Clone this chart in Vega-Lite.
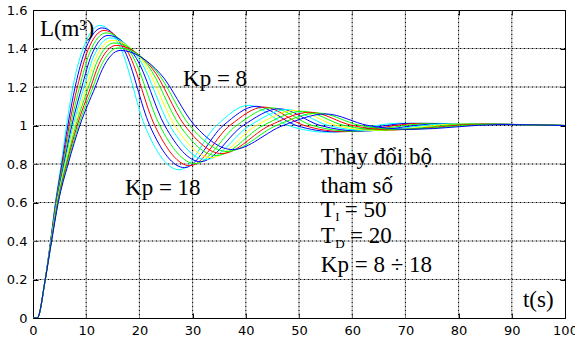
{
  "$schema": "https://vega.github.io/schema/vega-lite/v6.json",
  "width": 532,
  "height": 308,
  "autosize": {"type": "none"},
  "padding": {"left": 33, "top": 10, "right": 10, "bottom": 21},
  "background": "white",
  "config": {
    "view": {"stroke": null},
    "axis": {
      "domainColor": "black", "tickColor": "black", "labelColor": "black",
      "labelFont": "DejaVu Sans", "labelFontSize": 13, "title": null, "grid": false
    }
  },
  "datasets": {
    "gx": [{"v":10},{"v":20},{"v":30},{"v":40},{"v":50},{"v":60},{"v":70},{"v":80},{"v":90}],
    "gy": [{"v":0.2},{"v":0.4},{"v":0.6},{"v":0.8},{"v":1.0},{"v":1.2},{"v":1.4}],
    "curves": [
      {"k":18,"t":0,"y":0},{"k":18,"t":0.8,"y":0},{"k":18,"t":2.3,"y":0.2},{"k":18,"t":3.3,"y":0.4},{"k":18,"t":4.2,"y":0.6},{"k":18,"t":5.3,"y":0.8},{"k":18,"t":6.3,"y":1},{"k":18,"t":7.5,"y":1.2},{"k":18,"t":9.7,"y":1.42},{"k":18,"t":12.6,"y":1.52},{"k":18,"t":16.5,"y":1.4},{"k":18,"t":21,"y":1},{"k":18,"t":27.5,"y":0.77},{"k":18,"t":34.5,"y":1},{"k":18,"t":40.5,"y":1.105},{"k":18,"t":48,"y":1},{"k":18,"t":55.5,"y":0.965},{"k":18,"t":69,"y":1.012},{"k":18,"t":100,"y":1},
      {"k":17,"t":0,"y":0},{"k":17,"t":0.8,"y":0},{"k":17,"t":2.3,"y":0.2},{"k":17,"t":3.32,"y":0.4},{"k":17,"t":4.26,"y":0.6},{"k":17,"t":5.43,"y":0.8},{"k":17,"t":6.55,"y":1},{"k":17,"t":7.92,"y":1.2},{"k":17,"t":10.03,"y":1.407},{"k":17,"t":12.98,"y":1.507},{"k":17,"t":17.24,"y":1.387},{"k":17,"t":21.94,"y":1},{"k":17,"t":28.5,"y":0.781},{"k":17,"t":35.75,"y":1},{"k":17,"t":41.95,"y":1.1},{"k":17,"t":49.5,"y":1},{"k":17,"t":57.05,"y":0.967},{"k":17,"t":70.9,"y":1.011},{"k":17,"t":100,"y":1},
      {"k":16,"t":0,"y":0},{"k":16,"t":0.8,"y":0},{"k":16,"t":2.3,"y":0.2},{"k":16,"t":3.34,"y":0.4},{"k":16,"t":4.31,"y":0.6},{"k":16,"t":5.56,"y":0.8},{"k":16,"t":6.8,"y":1},{"k":16,"t":8.34,"y":1.2},{"k":16,"t":10.36,"y":1.394},{"k":16,"t":13.36,"y":1.494},{"k":16,"t":17.98,"y":1.374},{"k":16,"t":22.88,"y":1},{"k":16,"t":29.5,"y":0.791},{"k":16,"t":37,"y":1},{"k":16,"t":43.4,"y":1.096},{"k":16,"t":51,"y":1},{"k":16,"t":58.6,"y":0.968},{"k":16,"t":72.8,"y":1.011},{"k":16,"t":100,"y":1},
      {"k":15,"t":0,"y":0},{"k":15,"t":0.8,"y":0},{"k":15,"t":2.3,"y":0.2},{"k":15,"t":3.36,"y":0.4},{"k":15,"t":4.37,"y":0.6},{"k":15,"t":5.69,"y":0.8},{"k":15,"t":7.05,"y":1},{"k":15,"t":8.76,"y":1.2},{"k":15,"t":10.69,"y":1.381},{"k":15,"t":13.74,"y":1.481},{"k":15,"t":18.72,"y":1.361},{"k":15,"t":23.82,"y":1},{"k":15,"t":30.5,"y":0.802},{"k":15,"t":38.25,"y":1},{"k":15,"t":44.85,"y":1.092},{"k":15,"t":52.5,"y":1},{"k":15,"t":60.15,"y":0.97},{"k":15,"t":74.7,"y":1.01},{"k":15,"t":100,"y":1},
      {"k":14,"t":0,"y":0},{"k":14,"t":0.8,"y":0},{"k":14,"t":2.3,"y":0.2},{"k":14,"t":3.38,"y":0.4},{"k":14,"t":4.42,"y":0.6},{"k":14,"t":5.82,"y":0.8},{"k":14,"t":7.3,"y":1},{"k":14,"t":9.18,"y":1.2},{"k":14,"t":11.02,"y":1.368},{"k":14,"t":14.12,"y":1.468},{"k":14,"t":19.46,"y":1.348},{"k":14,"t":24.76,"y":1},{"k":14,"t":31.5,"y":0.812},{"k":14,"t":39.5,"y":1},{"k":14,"t":46.3,"y":1.087},{"k":14,"t":54,"y":1},{"k":14,"t":61.7,"y":0.971},{"k":14,"t":76.6,"y":1.009},{"k":14,"t":100,"y":1},
      {"k":13,"t":0,"y":0},{"k":13,"t":0.8,"y":0},{"k":13,"t":2.3,"y":0.2},{"k":13,"t":3.4,"y":0.4},{"k":13,"t":4.48,"y":0.6},{"k":13,"t":5.95,"y":0.8},{"k":13,"t":7.55,"y":1},{"k":13,"t":9.6,"y":1.2},{"k":13,"t":11.35,"y":1.355},{"k":13,"t":14.5,"y":1.455},{"k":13,"t":20.2,"y":1.335},{"k":13,"t":25.7,"y":1},{"k":13,"t":32.5,"y":0.823},{"k":13,"t":40.75,"y":1},{"k":13,"t":47.75,"y":1.083},{"k":13,"t":55.5,"y":1},{"k":13,"t":63.25,"y":0.973},{"k":13,"t":78.5,"y":1.009},{"k":13,"t":100,"y":1},
      {"k":12,"t":0,"y":0},{"k":12,"t":0.8,"y":0},{"k":12,"t":2.3,"y":0.2},{"k":12,"t":3.42,"y":0.4},{"k":12,"t":4.53,"y":0.6},{"k":12,"t":6.08,"y":0.8},{"k":12,"t":7.8,"y":1},{"k":12,"t":10.02,"y":1.2},{"k":12,"t":11.68,"y":1.342},{"k":12,"t":14.88,"y":1.442},{"k":12,"t":20.94,"y":1.322},{"k":12,"t":26.64,"y":1},{"k":12,"t":33.5,"y":0.833},{"k":12,"t":42,"y":1},{"k":12,"t":49.2,"y":1.078},{"k":12,"t":57,"y":1},{"k":12,"t":64.8,"y":0.974},{"k":12,"t":80.4,"y":1.008},{"k":12,"t":100,"y":1},
      {"k":11,"t":0,"y":0},{"k":11,"t":0.8,"y":0},{"k":11,"t":2.3,"y":0.2},{"k":11,"t":3.44,"y":0.4},{"k":11,"t":4.59,"y":0.6},{"k":11,"t":6.21,"y":0.8},{"k":11,"t":8.05,"y":1},{"k":11,"t":10.44,"y":1.2},{"k":11,"t":12.01,"y":1.329},{"k":11,"t":15.26,"y":1.429},{"k":11,"t":21.68,"y":1.309},{"k":11,"t":27.58,"y":1},{"k":11,"t":34.5,"y":0.844},{"k":11,"t":43.25,"y":1},{"k":11,"t":50.65,"y":1.074},{"k":11,"t":58.5,"y":1},{"k":11,"t":66.35,"y":0.976},{"k":11,"t":82.3,"y":1.007},{"k":11,"t":100,"y":1},
      {"k":10,"t":0,"y":0},{"k":10,"t":0.8,"y":0},{"k":10,"t":2.3,"y":0.2},{"k":10,"t":3.46,"y":0.4},{"k":10,"t":4.64,"y":0.6},{"k":10,"t":6.34,"y":0.8},{"k":10,"t":8.3,"y":1},{"k":10,"t":10.86,"y":1.2},{"k":10,"t":12.34,"y":1.316},{"k":10,"t":15.64,"y":1.416},{"k":10,"t":22.42,"y":1.296},{"k":10,"t":28.52,"y":1},{"k":10,"t":35.5,"y":0.854},{"k":10,"t":44.5,"y":1},{"k":10,"t":52.1,"y":1.069},{"k":10,"t":60,"y":1},{"k":10,"t":67.9,"y":0.977},{"k":10,"t":84.2,"y":1.007},{"k":10,"t":100,"y":1},
      {"k":9,"t":0,"y":0},{"k":9,"t":0.8,"y":0},{"k":9,"t":2.3,"y":0.2},{"k":9,"t":3.48,"y":0.4},{"k":9,"t":4.7,"y":0.6},{"k":9,"t":6.47,"y":0.8},{"k":9,"t":8.55,"y":1},{"k":9,"t":11.28,"y":1.2},{"k":9,"t":12.67,"y":1.303},{"k":9,"t":16.02,"y":1.403},{"k":9,"t":23.16,"y":1.283},{"k":9,"t":29.46,"y":1},{"k":9,"t":36.5,"y":0.865},{"k":9,"t":45.75,"y":1},{"k":9,"t":53.55,"y":1.065},{"k":9,"t":61.5,"y":1},{"k":9,"t":69.45,"y":0.979},{"k":9,"t":86.1,"y":1.006},{"k":9,"t":100,"y":1},
      {"k":8,"t":0,"y":0},{"k":8,"t":0.8,"y":0},{"k":8,"t":2.3,"y":0.2},{"k":8,"t":3.5,"y":0.4},{"k":8,"t":4.75,"y":0.6},{"k":8,"t":6.6,"y":0.8},{"k":8,"t":8.8,"y":1},{"k":8,"t":11.7,"y":1.2},{"k":8,"t":13,"y":1.29},{"k":8,"t":16.4,"y":1.39},{"k":8,"t":23.9,"y":1.27},{"k":8,"t":30.4,"y":1},{"k":8,"t":37.5,"y":0.875},{"k":8,"t":47,"y":1},{"k":8,"t":55,"y":1.06},{"k":8,"t":63,"y":1},{"k":8,"t":71,"y":0.98},{"k":8,"t":88,"y":1.005},{"k":8,"t":100,"y":1}
    ],
    "txt": [
      {"t":1.3,"y":1.465,"s":"L(m³)"},
      {"t":28.2,"y":1.205,"s":"Kp = 8"},
      {"t":17.3,"y":0.639,"s":"Kp = 18"},
      {"t":54.1,"y":0.798,"s":"Thay đổi bộ"},
      {"t":54.1,"y":0.651,"s":"tham số"},
      {"t":54.1,"y":0.526,"s":"T"},
      {"t":58.6,"y":0.526,"s":"= 50"},
      {"t":54.1,"y":0.39,"s":"T"},
      {"t":59.6,"y":0.39,"s":"= 20"},
      {"t":54.1,"y":0.24,"s":"Kp = 8 ÷ 18"},
      {"t":92.1,"y":0.059,"s":"t(s)"}
    ],
    "sub": [
      {"t":56.8,"y":0.504,"s":"I"},
      {"t":56.8,"y":0.364,"s":"D"}
    ]
  },
  "layer": [
    {
      "data": {"name": "gx"},
      "mark": {"type": "rule", "color": "#9a9a9a", "strokeWidth": 1},
      "encoding": {"x": {"field": "v", "type": "quantitative", "scale": {"domain": [0, 100], "nice": false},
              "axis": {"orient": "bottom", "values": [0,10,20,30,40,50,60,70,80,90,100], "tickSize": -5, "labelPadding": 11, "labelFlush": false}}}
    },
    {
      "data": {"name": "gy"},
      "mark": {"type": "rule", "color": "#9a9a9a", "strokeWidth": 1},
      "encoding": {"y": {"field": "v", "type": "quantitative", "scale": {"domain": [0, 1.6], "nice": false},
              "axis": {"orient": "left", "values": [0,0.2,0.4,0.6,0.8,1,1.2,1.4,1.6], "format": ".1~f", "tickSize": -5, "labelPadding": 11, "labelFlush": false}}}
    },
    {
      "data": {"name": "gx"},
      "mark": {"type": "rule", "color": "#000000", "strokeWidth": 1, "strokeDash": [1, 3]},
      "encoding": {"x": {"field": "v", "type": "quantitative", "axis": null}}
    },
    {
      "data": {"name": "gy"},
      "mark": {"type": "rule", "color": "#000000", "strokeWidth": 1, "strokeDash": [1, 3]},
      "encoding": {"y": {"field": "v", "type": "quantitative", "axis": null}}
    },
    {
      "data": {"name": "curves"},
      "mark": {"type": "line", "interpolate": "monotone", "strokeWidth": 1, "clip": true},
      "encoding": {
        "x": {"field": "t", "type": "quantitative", "axis": null},
        "y": {"field": "y", "type": "quantitative", "axis": null},
        "color": {"field": "k", "type": "nominal", "legend": null,
                  "scale": {"domain": [8,9,10,11,12,13,14,15,16,17,18],
                            "range": ["#0000ff","#00ff00","#ff0000","#00ff00","#ffff00","#00ffff","#0000ff","#00ff00","#ff0000","#0000ff","#00ffff"]}}
      }
    },
    {
      "data": {"name": "txt"},
      "mark": {"type": "text", "font": "Liberation Serif", "fontSize": 23, "align": "left", "baseline": "alphabetic", "color": "black"},
      "encoding": {
        "x": {"field": "t", "type": "quantitative", "axis": {"orient": "top", "values": [0,10,20,30,40,50,60,70,80,90,100], "labels": false, "tickSize": -5}},
        "y": {"field": "y", "type": "quantitative", "axis": {"orient": "right", "values": [0,0.2,0.4,0.6,0.8,1,1.2,1.4,1.6], "labels": false, "tickSize": -5}},
        "text": {"field": "s"}
      }
    },
    {
      "data": {"name": "sub"},
      "mark": {"type": "text", "font": "Liberation Serif", "fontSize": 13, "align": "left", "baseline": "alphabetic", "color": "black"},
      "encoding": {
        "x": {"field": "t", "type": "quantitative", "axis": null},
        "y": {"field": "y", "type": "quantitative", "axis": null},
        "text": {"field": "s"}
      }
    }
  ],
  "resolve": {"axis": {"x": "independent", "y": "independent"}}
}
